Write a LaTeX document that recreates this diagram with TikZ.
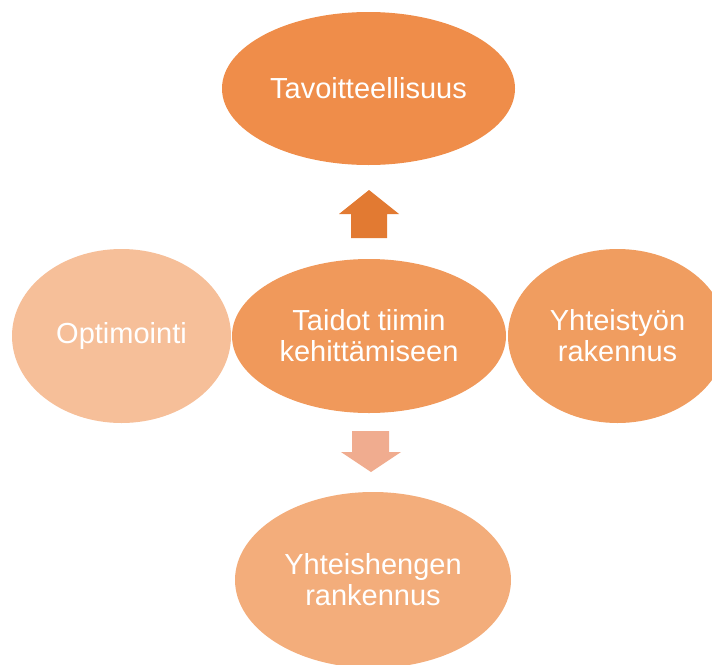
\documentclass[tikz,border=0pt]{standalone}
\usepackage{fontspec}
\setmainfont{Liberation Sans}
\usetikzlibrary{shapes.geometric}
\definecolor{cTop}{RGB}{239,141,74}
\definecolor{cUp}{RGB}{226,122,50}
\definecolor{cMid}{RGB}{240,153,91}
\definecolor{cRight}{RGB}{240,157,96}
\definecolor{cLeft}{RGB}{246,191,153}
\definecolor{cBot}{RGB}{243,173,123}
\definecolor{cDown}{RGB}{240,172,143}
\tikzset{
  blob/.style={ellipse, inner sep=0pt, text=white, align=center,
    font=\fontsize{29}{31}\selectfont},
}
\begin{document}
\begin{tikzpicture}[x=1pt,y=-1pt]
\useasboundingbox (0,0) rectangle (712,664);
\clip (0,0) rectangle (712,664);
\node[blob, fill=cTop, minimum width=293pt, minimum height=153pt] (top) at (368.5,88.5) {Tavoitteellisuus};
\node[blob, fill=cMid, minimum width=274pt, minimum height=154pt] (mid) at (369,336) {Taidot tiimin\\kehittämiseen};
\node[blob, fill=cLeft, minimum width=219pt, minimum height=174pt] (left) at (121.5,336) {Optimointi};
\node[blob, fill=cRight, minimum width=219pt, minimum height=174pt] (right) at (617.5,336) {Yhteistyön\\rakennus};
\node[blob, fill=cBot, minimum width=276pt, minimum height=176pt] (bot) at (373,580) {Yhteishengen\\rankennus};
% up arrow
\fill[cUp] (351,238) -- (351,214) -- (339,214) -- (369,190) -- (399,214) -- (387,214) -- (387,238) -- cycle;
% down arrow
\fill[cDown] (352,431) -- (389,431) -- (389,452) -- (401,452) -- (371,472) -- (341,452) -- (352,452) -- cycle;
\end{tikzpicture}
\end{document}
